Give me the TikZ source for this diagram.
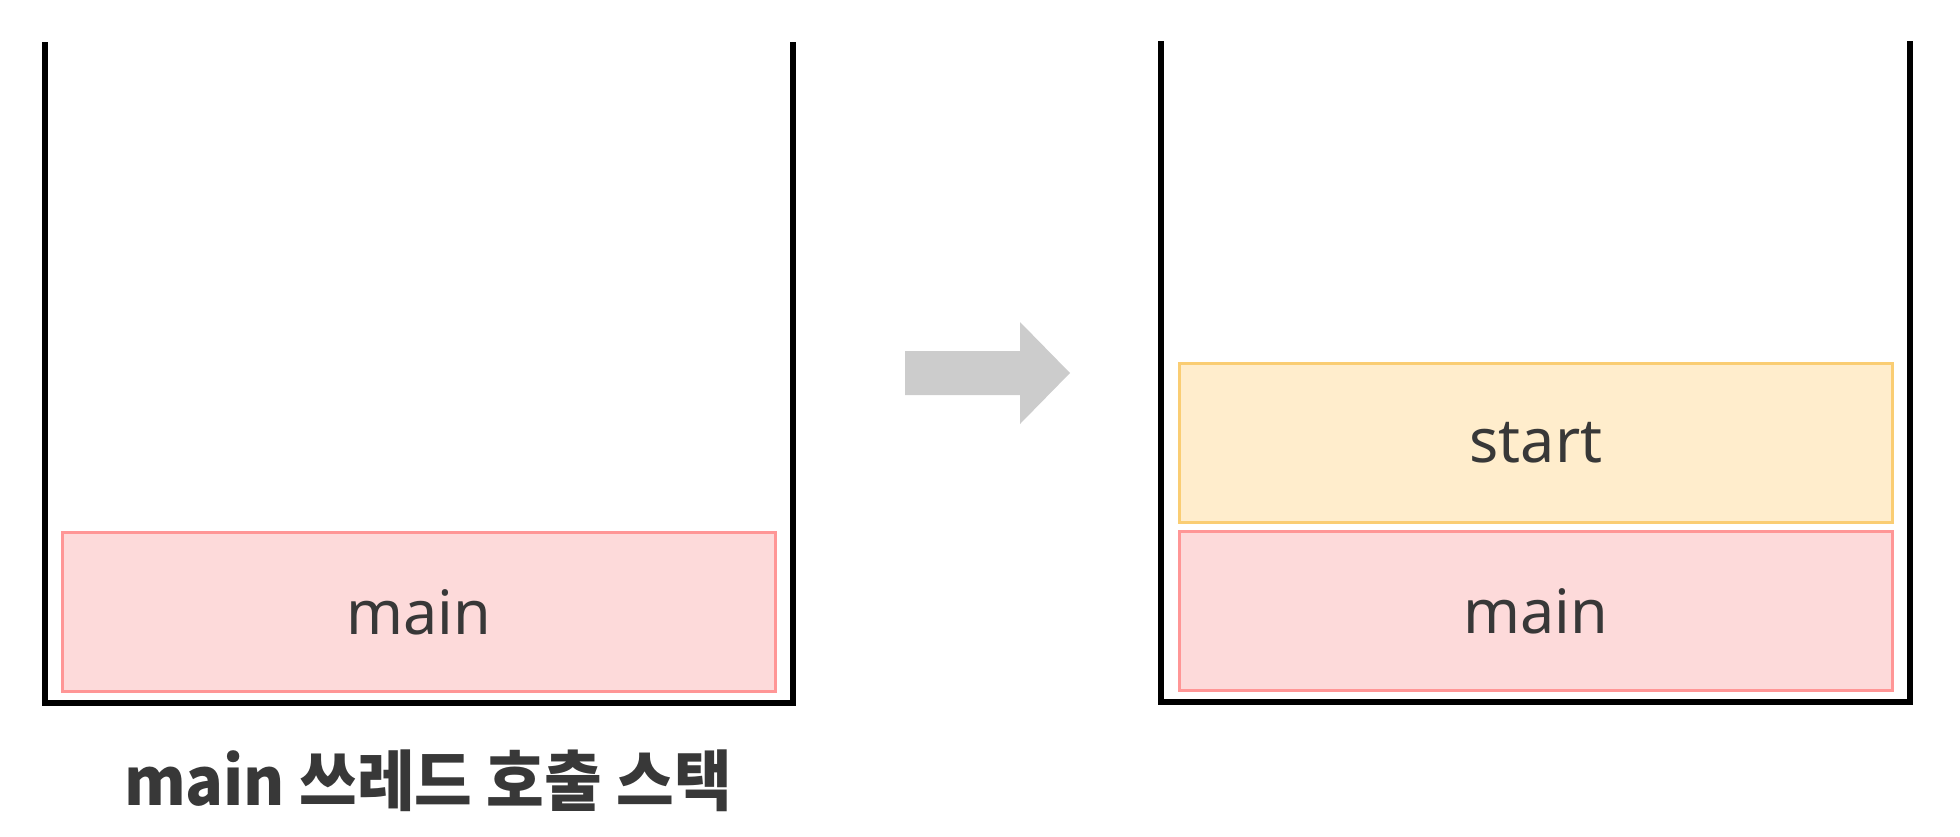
\documentclass[tikz,border=0pt]{standalone}
\usepackage{fontspec}
\setmainfont{Noto Sans}
\newfontfamily\krfont[FakeStretch=0.95]{Noto Sans CJK KR}
\definecolor{txt}{HTML}{383838}
\definecolor{pinkfill}{HTML}{FDDADA}
\definecolor{pinkdraw}{HTML}{FF9696}
\definecolor{yelfill}{HTML}{FFEDCC}
\definecolor{yeldraw}{HTML}{FACD73}
\definecolor{arrowgray}{HTML}{CCCCCC}
\tikzset{
  wall/.style={line width=3pt, draw=black, miter limit=10},
  frame/.style={draw, line width=1.5pt, minimum width=356.5pt, minimum height=79.5pt, inner sep=0pt, text=txt, font=\fontsize{30.5}{34}\selectfont},
  mainframe/.style={frame, fill=pinkfill, draw=pinkdraw},
  startframe/.style={frame, fill=yelfill, draw=yeldraw},
}
\begin{document}
\begin{tikzpicture}[x=0.5pt,y=-0.5pt]
\useasboundingbox (0,0) rectangle (1960,836);
% left stack
\draw[wall] (45,42) -- (45,703) -- (793,703) -- (793,42);
\node[mainframe] (lmain) at (419,612) {main};
\node[text=txt, font=\krfont\bfseries\fontsize{33}{36}\selectfont] (cap) at (428,781) {main 쓰레드 호출 스택};
% arrow
\fill[arrowgray] (905,351) -- (1020,351) -- (1020,322) -- (1070,373) -- (1020,424) -- (1020,395) -- (905,395) -- cycle;
% right stack
\draw[wall] (1161,41) -- (1161,702) -- (1910,702) -- (1910,41);
\node[startframe] (rstart) at (1536,442.5) {start};
\node[mainframe] (rmain) at (1536,611) {main};
\end{tikzpicture}
\end{document}
